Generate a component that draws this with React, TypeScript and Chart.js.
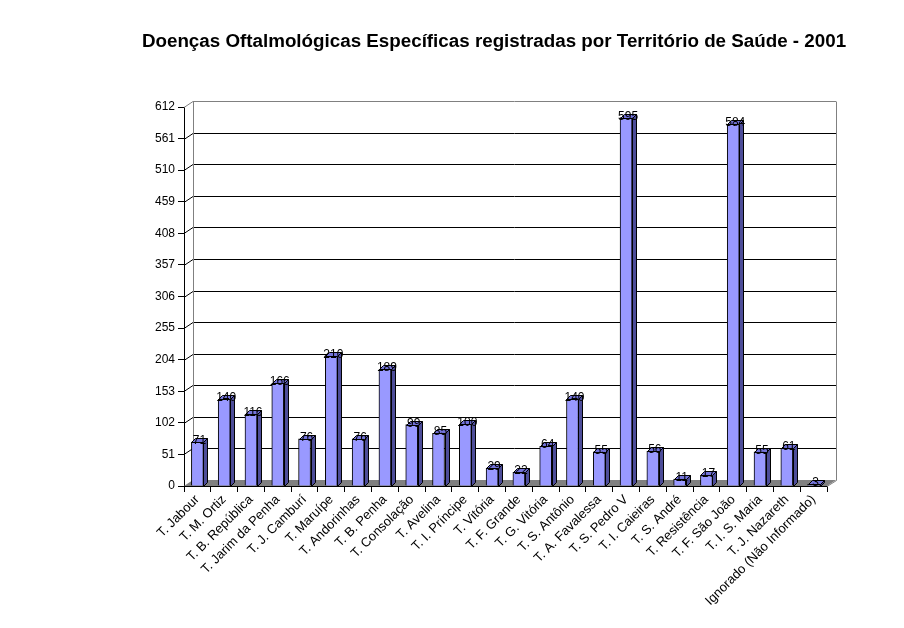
import React, { useEffect, useRef } from "react";
import { Chart, registerables } from "chart.js";

Chart.register(...registerables);

const TITLE = "Doenças Oftalmológicas Específicas registradas por Território de Saúde - 2001";

const categories = [
  "T. Jabour",
  "T. M. Ortiz",
  "T. B. República",
  "T. Jarim da Penha",
  "T. J. Camburí",
  "T. Maruípe",
  "T. Andorinhas",
  "T. B. Penha",
  "T. Consolação",
  "T. Avelina",
  "T. I. Príncipe",
  "T. Vitória",
  "T. F. Grande",
  "T. G. Vitória",
  "T. S. Antônio",
  "T. A. Favalessa",
  "T. S. Pedro V",
  "T. I. Caieiras",
  "T. S. André",
  "T. Resistência",
  "T. F. São João",
  "T. I. S. Maria",
  "T. J. Nazareth",
  "Ignorado (Não Informado)",
];

const values = [71, 140, 116, 166, 76, 210, 76, 189, 99, 85, 100, 29, 22, 64, 140, 55, 595, 56, 11, 17, 584, 55, 61, 3];

const yMin = 0;
const yMax = 612;
const yStep = 51;

const FONT = '"Liberation Sans", Arial, sans-serif';
const WDX = 9;
const WDY = 6;
const BDX = 4;
const BDY = 4;

const wallPlugin = {
  id: "wall3d",
  beforeDatasetsDraw(chart: any) {
    const { ctx, chartArea: a, scales } = chart;
    const y = scales.y;
    ctx.save();
    ctx.fillStyle = "#808080";
    ctx.beginPath();
    ctx.moveTo(a.left, a.bottom);
    ctx.lineTo(a.left + WDX, a.bottom - WDY);
    ctx.lineTo(a.right + WDX, a.bottom - WDY);
    ctx.lineTo(a.right, a.bottom);
    ctx.closePath();
    ctx.fill();
    ctx.lineWidth = 1;
    for (let v = yMin + yStep; v <= yMax; v += yStep) {
      const yy = Math.round(y.getPixelForValue(v)) + 0.5;
      ctx.strokeStyle = v === yMax ? "#808080" : "#000000";
      ctx.beginPath();
      ctx.moveTo(a.left, yy);
      ctx.lineTo(a.left + WDX, yy - WDY);
      ctx.lineTo(a.right + WDX, yy - WDY);
      ctx.stroke();
    }
    ctx.strokeStyle = "#808080";
    const lx = Math.round(a.left + WDX) + 0.5;
    const rx = Math.round(a.right + WDX) + 0.5;
    const ty = Math.round(a.top - WDY) + 0.5;
    const by = Math.round(a.bottom - WDY) + 0.5;
    ctx.beginPath();
    ctx.moveTo(lx, ty);
    ctx.lineTo(lx, by);
    ctx.moveTo(rx, ty);
    ctx.lineTo(rx, by);
    ctx.lineTo(a.right, a.bottom + 0.5);
    ctx.stroke();
    ctx.restore();
  },
  afterDatasetsDraw(chart: any) {
    const { ctx } = chart;
    const meta = chart.getDatasetMeta(0);
    ctx.save();
    ctx.lineWidth = 1;
    ctx.strokeStyle = "#000000";
    meta.data.forEach((bar: any, i: number) => {
      const { x, y, base, width } = bar.getProps(["x", "y", "base", "width"], true);
      const l = Math.round(x - width / 2) + 0.5;
      const r = Math.round(x + width / 2) + 0.5;
      const t = Math.round(y) + 0.5;
      const b = Math.round(base) + 0.5;
      ctx.fillStyle = "#4d4d99";
      ctx.beginPath();
      ctx.moveTo(r, t);
      ctx.lineTo(r + BDX, t - BDY);
      ctx.lineTo(r + BDX, b - BDY);
      ctx.lineTo(r, b);
      ctx.closePath();
      ctx.fill();
      ctx.stroke();
      ctx.fillStyle = "#7373d9";
      ctx.beginPath();
      ctx.moveTo(l, t);
      ctx.lineTo(l + BDX, t - BDY);
      ctx.lineTo(r + BDX, t - BDY);
      ctx.lineTo(r, t);
      ctx.closePath();
      ctx.fill();
      ctx.stroke();
      ctx.fillStyle = "#000000";
      ctx.font = `12px ${FONT}`;
      ctx.textAlign = "center";
      ctx.textBaseline = "alphabetic";
      ctx.fillText(String(values[i]), x + 2, t + 1);
    });
    ctx.restore();
  },
  afterDraw(chart: any) {
    const { ctx } = chart;
    ctx.save();
    ctx.fillStyle = "#000000";
    ctx.font = `bold 18.8px ${FONT}`;
    ctx.textAlign = "center";
    ctx.textBaseline = "middle";
    ctx.fillText(TITLE, 494, 42);
    ctx.restore();
  },
};

export default function App() {
  const ref = useRef<HTMLCanvasElement | null>(null);
  useEffect(() => {
    if (!ref.current) return;
    const chart = new Chart(ref.current, {
      type: "bar",
      data: {
        labels: categories,
        datasets: [
          {
            data: values,
            backgroundColor: "#9999ff",
            borderColor: "#000000",
            borderWidth: 1,
            barThickness: 12,
          },
        ],
      },
      options: {
        animation: false,
        responsive: true,
        maintainAspectRatio: false,
        layout: { padding: { top: 107, right: 77, left: 0, bottom: 0 } },
        plugins: {
          legend: { display: false },
          title: { display: false },
          tooltip: { enabled: false },
        },
        scales: {
          x: {
            afterFit: (s: any) => {
              s.height = 142;
            },
            grid: {
              offset: true,
              drawOnChartArea: false,
              drawTicks: true,
              tickLength: 6,
              color: "#000000",
            },
            border: { display: true, color: "#000000" },
            ticks: {
              minRotation: 45,
              maxRotation: 45,
              autoSkip: false,
              padding: 0,
              color: "#000000",
              font: { family: FONT, size: 13 },
            },
          },
          y: {
            min: yMin,
            max: yMax,
            afterFit: (s: any) => {
              s.width = 184;
            },
            grid: {
              drawOnChartArea: false,
              drawTicks: true,
              tickLength: 6,
              color: "#000000",
            },
            border: { display: true, color: "#000000" },
            ticks: {
              stepSize: yStep,
              padding: 3,
              color: "#000000",
              font: { family: FONT, size: 12 },
            },
          },
        },
      },
      plugins: [wallPlugin],
    });
    return () => chart.destroy();
  }, []);
  return (
    <div style={{ position: "absolute", left: 0, top: 0, width: 904, height: 628, background: "#ffffff" }}>
      <canvas ref={ref} />
    </div>
  );
}
